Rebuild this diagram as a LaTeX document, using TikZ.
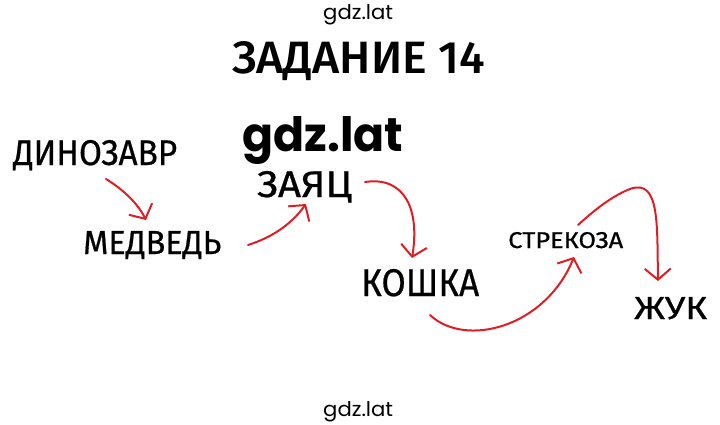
\documentclass[tikz,border=0pt]{standalone}
\usepackage{graphicx}
\usepackage{fontspec}
\setmainfont{Fira Sans}[FakeBold=0.6]
\newfontfamily\titlefont{Fira Sans Medium}
\newfontfamily\popfont{Poppins}
\usetikzlibrary{arrows.meta}
\definecolor{penred}{RGB}{222,30,36}
\newcommand{\fitbox}[3]{\resizebox{#1pt}{#2pt}{\fontsize{40}{40}\selectfont #3}}
\tikzset{
  word/.style={anchor=base west,inner sep=0pt,text=black},
  hand/.style={draw=penred,line width=2pt,line cap=round,line join=round,
    -{Straight Barb[length=11pt,width=26pt,line width=2pt]}},
}
\begin{document}
\begin{tikzpicture}[x=1pt,y=-1pt]
\useasboundingbox (0,0) rectangle (720,425);
\node[word] (wmtop) at (323,20) {\fitbox{70}{15}{\popfont gdz.lat}};
\node[word] (title) at (232,74) {\fitbox{253}{32}{\titlefont ЗАДАНИЕ 14}};
\node[word] (wmmid) at (242,152) {\fitbox{161}{35}{\popfont\bfseries gdz.lat}};
\node[word] (wmbot) at (323,416) {\fitbox{70}{15}{\popfont gdz.lat}};

\node[word] (dino) at (13,165) {\fitbox{164}{25}{ДИНОЗАВР}};
\node[word] (medv) at (83,254) {\fitbox{138}{23}{МЕДВЕДЬ}};
\node[word] (zayac) at (257,197) {\fitbox{95}{26}{ЗАЯЦ}};
\node[word] (koshka) at (361,296) {\fitbox{118}{27}{КОШКА}};
\node[word] (strek) at (508,248) {\fitbox{115}{16}{СТРЕКОЗА}};
\node[word] (zhuk) at (634,319) {\fitbox{73}{22}{ЖУК}};

\coordinate (a1s) at (106,179); \coordinate (a1e) at (146,220);
\coordinate (a2s) at (248,245); \coordinate (a2e) at (306,204);
\coordinate (a3s) at (365,182); \coordinate (a3e) at (412,258);
\coordinate (a4s) at (430,315); \coordinate (a4e) at (574,257);
\coordinate (a5s) at (578,225); \coordinate (a5e) at (658,281);

\draw[hand] (a1s) .. controls (124,190) and (138,204) .. (a1e);
\draw[hand] (a2s) .. controls (270,238) and (290,226) .. (a2e);
\draw[hand] (a3s) .. controls (405,176) and (420,210) .. (a3e);
\draw[hand] (a4s) .. controls (465,348) and (545,328) .. (a4e);
\draw[hand] (a5s) .. controls (600,205) and (615,195) .. (630,189)
  .. controls (660,178) and (657,225) .. (a5e);
\end{tikzpicture}
\end{document}
